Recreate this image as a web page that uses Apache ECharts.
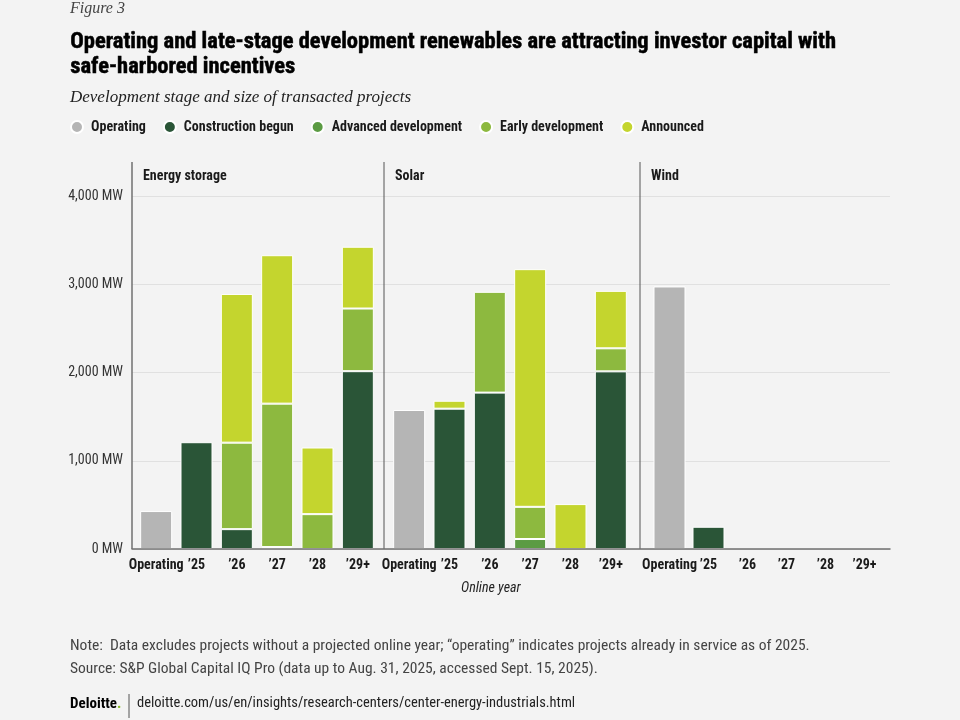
<!DOCTYPE html>
<html style="height: 100%">
<head>
<meta charset="utf-8">
<style type="text/css">
    body, html { width: 100%; height: 100%; margin: 0; background: #f3f3f3; overflow: hidden; }
    #main { width: 960px; height: 720px; }
</style>
</head>
<body>
<div id="main"></div>
<script src="https://cdn.jsdelivr.net/npm/echarts@6/dist/echarts.min.js"></script>
<script type="text/javascript">
// categories and stages
var years = ['Operating', '\u201925', '\u201926', '\u201927', '\u201928', '\u201929+'];
var stages = ['Operating', 'Construction begun', 'Advanced development', 'Early development', 'Announced'];
var panels = ['Energy storage', 'Solar', 'Wind'];
var yTicks = [0, 1000, 2000, 3000, 4000];

// MW by stage, one array per technology (null = no bar)
var storageOperating    = [430, null, null, null, null, null];
var storageConstruction = [null, 1210, 225, null, null, 2015];
var storageAdvanced     = [null, null, null, 22, null, null];
var storageEarly        = [null, null, 980, 1625, 395, 710];
var storageAnnounced    = [null, null, 1685, 1682, 755, 700];

var solarOperating    = [1575, null, null, null, null, null];
var solarConstruction = [null, 1590, 1772, null, null, 2013];
var solarAdvanced     = [null, null, null, 113, null, null];
var solarEarly        = [null, null, 1142, 365, null, 261];
var solarAnnounced    = [null, 90, null, 2693, 509, 651];

var windOperating    = [2975, null, null, null, null, null];
var windConstruction = [null, 252, null, null, null, null];
var windAdvanced     = [null, null, null, null, null, null];
var windEarly        = [null, null, null, null, null, null];
var windAnnounced    = [null, null, null, null, null, null];

var panelData = [
    [storageOperating, storageConstruction, storageAdvanced, storageEarly, storageAnnounced],
    [solarOperating, solarConstruction, solarAdvanced, solarEarly, solarAnnounced],
    [windOperating, windConstruction, windAdvanced, windEarly, windAnnounced]
];

var colors = ['#b5b5b5', '#2a5537', '#5b9b43', '#8db93f', '#c4d52e'];
var narrow = '"Roboto Condensed", "DejaVu Sans Condensed", sans-serif';
var serif = '"Liberation Serif", "DejaVu Serif", serif';
var textColor = '#1a1a1a';

var chart = echarts.init(document.getElementById('main'));

var gridTop = 196, gridBottom = 171;
var panelGrids = [
    {left: 136, width: 242},
    {left: 389, width: 242},
    {left: 650, width: 234}
];

var grid = [], xAxis = [], yAxis = [], series = [];
panelGrids.forEach(function (g, i) {
    grid.push({left: g.left, width: g.width, top: gridTop, bottom: gridBottom});
    xAxis.push({
        type: 'category', gridIndex: i, data: years,
        axisLine: {show: false}, axisTick: {show: false},
        axisLabel: {color: textColor, fontFamily: narrow, fontWeight: 'bold', fontSize: 14, margin: 9, interval: 0}
    });
    yAxis.push({type: 'value', gridIndex: i, min: 0, max: 4000, show: false});
    stages.forEach(function (s, k) {
        series.push({
            name: s, type: 'bar', stack: 'p' + i,
            xAxisIndex: i, yAxisIndex: i,
            barWidth: 32,
            itemStyle: {color: colors[k], borderColor: '#ffffff', borderWidth: 1},
            emphasis: {disabled: true},
            data: panelData[i][k]
        });
    });
});

// background grid: gridlines, y labels, baseline
grid.push({left: 132, right: 70, top: gridTop, bottom: gridBottom});
xAxis.push({
    type: 'value', gridIndex: 3, min: 0, max: 1, z: 10,
    axisLabel: {show: false}, axisTick: {show: false}, splitLine: {show: false},
    axisLine: {show: true, lineStyle: {color: '#707070', width: 1.5}}
});
yAxis.push({
    type: 'value', gridIndex: 3, min: yTicks[0], max: yTicks[yTicks.length - 1], interval: 1000,
    axisLine: {show: false}, axisTick: {show: false},
    axisLabel: {
        color: '#333', fontFamily: narrow, fontSize: 14, margin: 9,
        formatter: function (v) { return v.toLocaleString('en-US') + ' MW'; }
    },
    splitLine: {lineStyle: {color: '#e0e0e0', width: 1}}
});

var dividers = [132, 384, 640];
var graphic = [];
dividers.forEach(function (x, i) {
    graphic.push({
        type: 'line', z: 10,
        shape: {x1: x, y1: 162, x2: x, y2: 549},
        style: {stroke: i === 0 ? '#707070' : '#555', lineWidth: i === 0 ? 1.5 : 1}
    });
    graphic.push({
        type: 'text', left: x + 11, top: 169,
        style: {text: panels[i], font: 'bold 14px ' + narrow, fill: textColor}
    });
});
graphic.push(
    {type: 'text', left: 70, top: 1, style: {text: 'Figure 3', font: 'italic 16px ' + serif, fill: '#444'}},
    {type: 'text', left: 70, top: 30, style: {
        text: 'Operating and late-stage development renewables are attracting investor capital with\nsafe-harbored incentives',
        font: 'bold 22.5px ' + narrow, fill: '#000', stroke: '#000', lineWidth: 0.5, lineHeight: 25}},
    {type: 'text', left: 70, top: 89, style: {text: 'Development stage and size of transacted projects', font: 'italic 17px ' + serif, fill: '#222'}},
    {type: 'text', left: 461, top: 581, style: {text: 'Online year', font: 'italic 14px ' + narrow, fill: '#222'}},
    {type: 'text', left: 70, top: 635, style: {
        text: 'Note:  Data excludes projects without a projected online year; \u201coperating\u201d indicates projects already in service as of 2025.\nSource: S&P Global Capital IQ Pro (data up to Aug. 31, 2025, accessed Sept. 15, 2025).',
        font: '15.5px ' + narrow, fill: '#444', lineHeight: 23}},
    {type: 'text', left: 70, top: 697, style: {
        text: '{a|Deloitte}{b|.}',
        rich: {
            a: {font: 'bold 15px ' + narrow, fill: '#000'},
            b: {font: 'bold 15px ' + narrow, fill: '#86bc25'}
        }}},
    {type: 'line', shape: {x1: 129, y1: 694, x2: 129, y2: 718}, style: {stroke: '#555', lineWidth: 1}},
    {type: 'text', left: 137, top: 696, style: {text: 'deloitte.com/us/en/insights/research-centers/center-energy-industrials.html', font: '14.5px ' + narrow, fill: '#222'}}
);

var option = {
    backgroundColor: '#f3f3f3',
    animation: false,
    legend: {
        left: 70, top: 120, padding: 0,
        icon: 'circle', itemWidth: 12, itemHeight: 12, itemGap: 17,
        selectedMode: false,
        textStyle: {color: textColor, fontFamily: narrow, fontWeight: 'bold', fontSize: 14, padding: [0, 0, 0, 3]},
        data: stages
    },
    grid: grid,
    xAxis: xAxis,
    yAxis: yAxis,
    series: series,
    graphic: graphic
};
chart.setOption(option);
</script>
</body>
</html>
